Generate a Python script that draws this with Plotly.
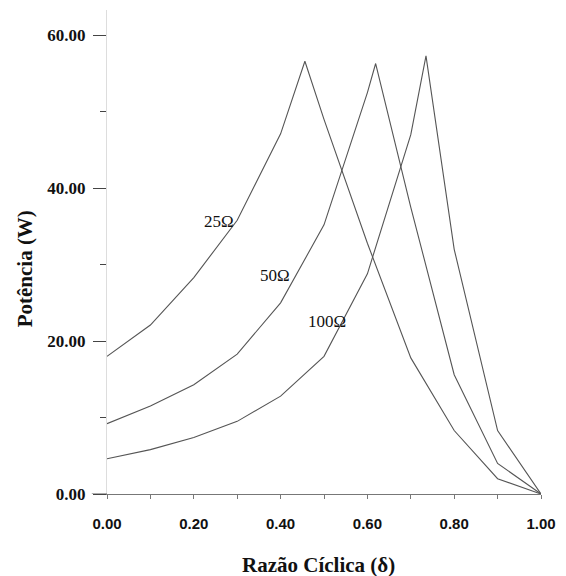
import plotly.graph_objects as go

# Data
x_25 = [0.0, 0.1, 0.2, 0.3, 0.4, 0.456, 0.5, 0.6, 0.7, 0.8, 0.9, 1.0]
p_25 = [18.0, 22.1, 28.3, 35.8, 47.1, 56.6, 49.0, 32.8, 17.8, 8.3, 2.0, 0.0]

x_50 = [0.0, 0.1, 0.2, 0.3, 0.4, 0.5, 0.6, 0.619, 0.7, 0.8, 0.9, 1.0]
p_50 = [9.2, 11.5, 14.3, 18.3, 25.0, 35.2, 52.5, 56.3, 37.5, 15.6, 4.0, 0.0]

x_100 = [0.0, 0.1, 0.2, 0.3, 0.4, 0.5, 0.6, 0.7, 0.735, 0.8, 0.9, 1.0]
p_100 = [4.6, 5.8, 7.4, 9.5, 12.8, 18.0, 28.8, 47.0, 57.3, 32.0, 8.3, 0.0]

curve_labels = ["25Ω", "50Ω", "100Ω"]
label_pos = [(0.297, 35.6), (0.426, 28.6), (0.556, 22.5)]

x_ticks = [0.0, 0.2, 0.4, 0.6, 0.8, 1.0]
y_ticks = [0, 20, 40, 60]

fig = go.Figure()
for xs, ys in [(x_25, p_25), (x_50, p_50), (x_100, p_100)]:
    fig.add_trace(go.Scatter(x=xs, y=ys, mode="lines",
                             line=dict(color="#555555", width=1.1),
                             cliponaxis=False, showlegend=False))

for txt, (lx, ly) in zip(curve_labels, label_pos):
    fig.add_annotation(x=lx, y=ly, xref="x", yref="y", text=txt, showarrow=False,
                       xanchor="right", yanchor="middle",
                       font=dict(family="Liberation Serif", size=17, color="#111"))

# extension of baseline to the left of the y axis
fig.add_shape(type="line", xref="paper", yref="y", x0=-0.035, x1=0, y0=0, y1=0,
              line=dict(color="#777", width=1.2))

fig.add_annotation(x=0.488, y=-0.147, xref="paper", yref="paper", text="<b>Razão Cíclica (δ)</b>",
                   showarrow=False, xanchor="center", yanchor="middle",
                   font=dict(family="Liberation Serif", size=21, color="#111"))
fig.add_annotation(x=-0.188, y=0.465, xref="paper", yref="paper", text="<b>Potência (W)</b>",
                   showarrow=False, textangle=-90, xanchor="center", yanchor="middle",
                   font=dict(family="Liberation Serif", size=21, color="#111"))

fig.update_layout(
    width=566, height=576,
    margin=dict(l=107, r=18, t=10, b=82),
    paper_bgcolor="white", plot_bgcolor="white",
    xaxis=dict(range=[0, 1.0], tickvals=x_ticks, ticktext=[f"{v:.2f}" for v in x_ticks],
               showgrid=False, zeroline=False, showline=True, linecolor="#777", linewidth=1.2,
               ticks="outside", ticklen=4, tickcolor="#777",
               minor=dict(dtick=0.1, ticks="outside", ticklen=4, tickcolor="#777"),
               tickfont=dict(family="Liberation Sans", size=15, color="#111", weight="bold"),
               ticklabelstandoff=12),
    yaxis=dict(range=[0, 63.3], tickvals=y_ticks, ticktext=[f"{v:.2f}" for v in y_ticks],
               showgrid=False, zeroline=False, showline=True, linecolor="#dddddd", linewidth=1,
               ticks="outside", ticklen=13, tickcolor="#444",
               minor=dict(tickvals=[10, 30, 50], ticks="outside", ticklen=6, tickcolor="#444"),
               tickfont=dict(family="Liberation Serif", size=17, color="#111", weight="bold"),
               ticklabelstandoff=4),
)

fig.write_html("out.html")
